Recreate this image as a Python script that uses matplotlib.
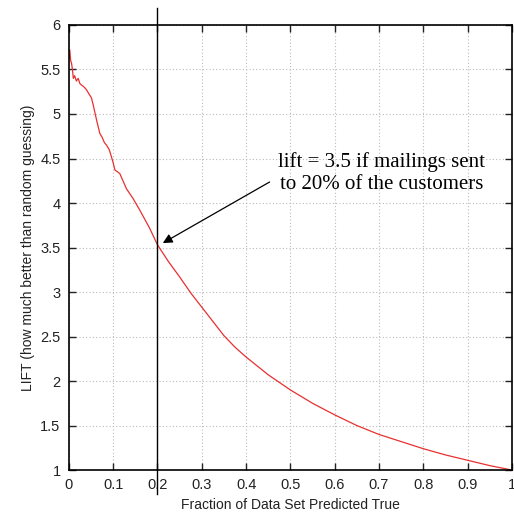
import matplotlib
matplotlib.use('Agg')
import matplotlib.pyplot as plt

# Lift curve
fraction = [0.0, 0.002, 0.004, 0.006, 0.008, 0.01, 0.013, 0.017, 0.021, 0.025, 0.03,
            0.035, 0.04, 0.046, 0.051, 0.055, 0.059, 0.064, 0.07, 0.075, 0.08, 0.085,
            0.091, 0.096, 0.1, 0.104, 0.11, 0.115, 0.122, 0.13, 0.145, 0.16,
            0.182, 0.2, 0.225, 0.25, 0.275, 0.3, 0.325, 0.35, 0.375, 0.4, 0.45,
            0.5, 0.55, 0.6, 0.65, 0.7, 0.75, 0.8, 0.85, 0.9, 0.95, 1.0]
lift = [5.62, 5.72, 5.6, 5.57, 5.5, 5.4, 5.43, 5.37, 5.4, 5.34, 5.32,
        5.3, 5.27, 5.22, 5.18, 5.1, 5.01, 4.9, 4.78, 4.74, 4.68, 4.65,
        4.6, 4.52, 4.45, 4.37, 4.35, 4.33, 4.25, 4.16, 4.05, 3.92,
        3.72, 3.53, 3.34, 3.17, 2.99, 2.83, 2.67, 2.51, 2.38, 2.27, 2.07,
        1.90, 1.75, 1.62, 1.50, 1.40, 1.32, 1.24, 1.17, 1.11, 1.05, 1.0]

x_ticks = [0, 0.1, 0.2, 0.3, 0.4, 0.5, 0.6, 0.7, 0.8, 0.9, 1]
x_labels = ['0', '0.1', '0.2', '0.3', '0.4', '0.5', '0.6', '0.7', '0.8', '0.9', '1']
y_ticks = [1, 1.5, 2, 2.5, 3, 3.5, 4, 4.5, 5, 5.5, 6]
y_labels = ['1', '1.5', '2', '2.5', '3', '3.5', '4', '4.5', '5', '5.5', '6']

plt.rcParams['font.family'] = ['Liberation Sans', 'DejaVu Sans']

fig = plt.figure(figsize=(5.14, 5.16), dpi=100)
ax = fig.add_axes([0.134, 0.089, 0.862, 0.8626])

ax.plot(fraction, lift, color='#e8302f', linewidth=0.9)

# cutoff marker at 20%
ax.axvline(0.2, ymin=-0.054, ymax=1.038, color='black', linewidth=1.0, clip_on=False)

ax.text(0.705, 4.34, 'lift = 3.5 if mailings sent\nto 20% of the customers',
        ha='center', va='center', fontsize=15, family='Liberation Serif',
        linespacing=1.2)
ax.annotate('', xy=(0.212, 3.55), xytext=(0.453, 4.236),
            arrowprops=dict(arrowstyle='-|>', color='black', lw=0.9,
                            mutation_scale=14, shrinkA=0, shrinkB=0))

ax.set_xlim(0, 1)
ax.set_ylim(1, 6)
ax.set_xticks(x_ticks)
ax.set_xticklabels(x_labels)
ax.set_yticks(y_ticks)
ax.set_yticklabels(y_labels)
ax.tick_params(direction='in', length=5, width=1, top=True, right=True,
               labelsize=10.5, colors='#222222', pad=6)
ax.grid(True, linestyle=(0, (1, 2)), color='#bbbbbb', linewidth=0.8)
for s in ax.spines.values():
    s.set_linewidth(1.2)

ax.set_xlabel('Fraction of Data Set Predicted True', fontsize=10, color='#222222')
ax.set_ylabel('LIFT (how much better than random guessing)', fontsize=10, color='#222222')

fig.savefig('out.png', dpi=100)
